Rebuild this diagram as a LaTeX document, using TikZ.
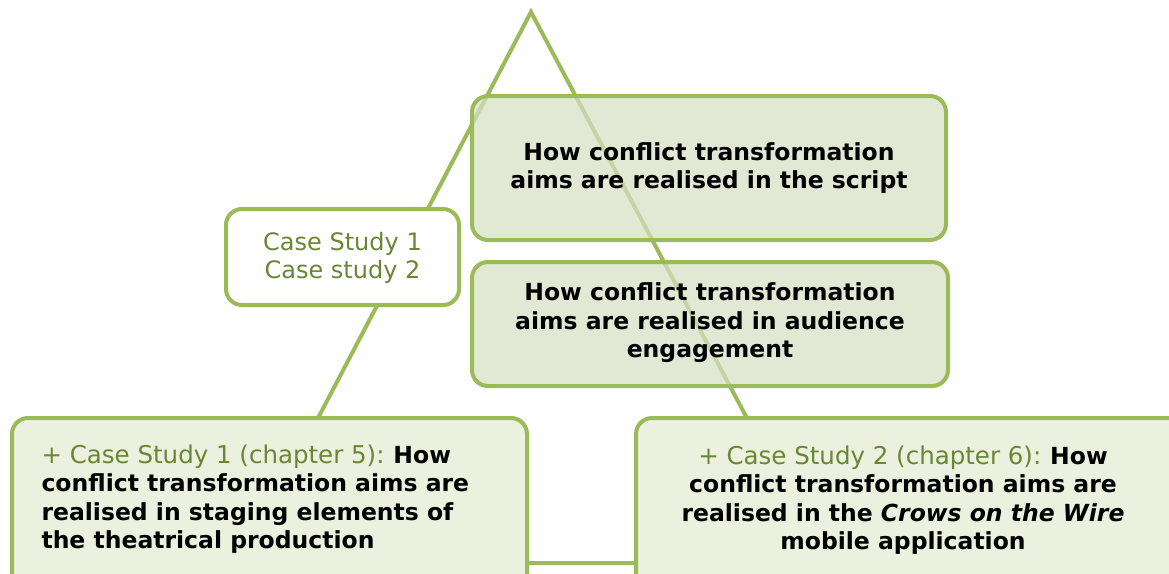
\documentclass[tikz,border=0pt]{standalone}
\usepackage{fontspec}
\setmainfont{DejaVu Sans}
\definecolor{linegreen}{HTML}{9BBB59}
\definecolor{labelgreen}{HTML}{6A8634}
\definecolor{softfill}{HTML}{D5DFC3}
\definecolor{palefill}{HTML}{EBF1DE}
\begin{document}
\begin{tikzpicture}[x=1pt,y=-1pt,
  frame/.style={draw=linegreen, line width=4pt, rounded corners=16pt},
  topbox/.style={frame, fill=softfill, fill opacity=0.72, text opacity=1},
  basebox/.style={frame, fill=palefill},
  whitebox/.style={frame, fill=white},
  bodytext/.style={font=\fontsize{23.5}{28.5}\selectfont\bfseries, text=black},
  tagtext/.style={text=labelgreen}]
\useasboundingbox (0,0) rectangle (1169,573);
\clip (0,0) rectangle (1169,573);
% the triangle behind the boxes
\coordinate (apex) at (531,12);
\coordinate (bl) at (242,563);
\coordinate (br) at (824,563);
\draw[linegreen, line width=4pt, line join=miter] (apex) -- (bl) -- (br) -- cycle;
% boxes
\draw[whitebox] (226,209) rectangle (459,305);
\node (cases) at (342.5,258) [tagtext, align=center, font=\fontsize{24}{28}\selectfont] {Case Study 1\\Case study 2};
\draw[topbox] (472,96) rectangle (946,240);
\node (script) at (709,168) [bodytext, align=center] {How conflict transformation\\aims are realised in the script};
\draw[topbox] (472,262) rectangle (948,386);
\node (audience) at (710,323) [bodytext, align=center] {How conflict transformation\\aims are realised in audience\\engagement};
\draw[basebox] (12,418) rectangle (527,600);
\node (staging) at (38,499) [bodytext, anchor=west, align=left] {{\mdseries\fontsize{24.5}{28.5}\selectfont\color{labelgreen}+ Case Study 1 (chapter 5):}\hspace{-2pt} How\\conflict transformation aims are\\realised in staging elements of\\the theatrical production};
\draw[basebox] (636,418) rectangle (1190,600);
\node (app) at (903,500) [bodytext, align=center] {{\mdseries\fontsize{24.5}{28.5}\selectfont\color{labelgreen}+ Case Study 2 (chapter 6):}\hspace{-2pt} How\\conflict transformation aims are\\realised in the \textit{Crows on the Wire}\\mobile application};
\end{tikzpicture}
\end{document}
